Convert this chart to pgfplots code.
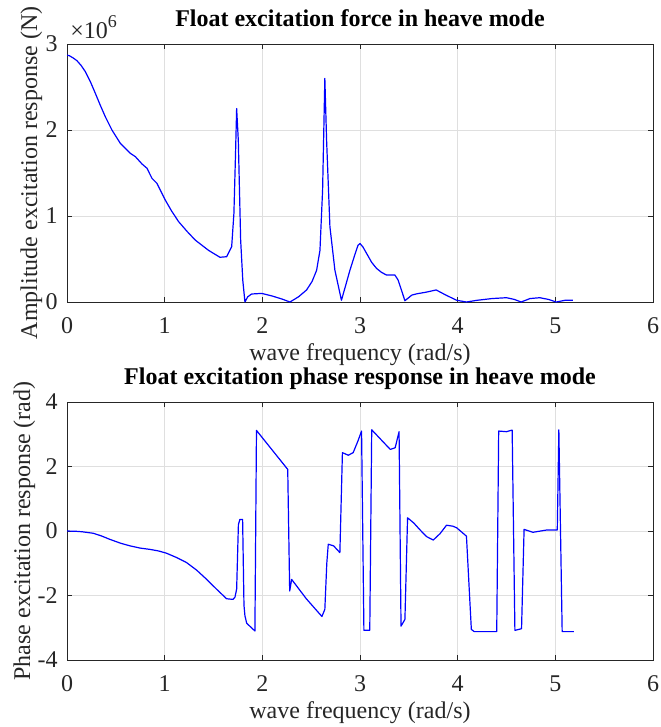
\documentclass[border=0pt,12pt]{standalone}
\usepackage{fontspec}
\setmainfont{Liberation Serif}
\usepackage{pgfplots}
\pgfplotsset{compat=1.18}
\definecolor{axgray}{RGB}{38,38,38}
\definecolor{gridgray}{RGB}{223,223,223}
\pgfplotsset{
  mlab/.style={
    scale only axis, width=293pt, height=129pt,
    xmin=0, xmax=6, xtick={0,1,2,3,4,5,6},
    grid=major, grid style={gridgray, line width=0.4pt},
    axis line style={axgray, line width=0.5pt},
    tick align=inside, xtick pos=both, ytick pos=both,
    major tick style={axgray, line width=0.5pt}, major tick length=2.5pt,
    /pgf/number format/assume math mode=true,
    tick label style={font=\fontsize{12}{14}\selectfont, text=axgray},
    xticklabel style={yshift=-3.5pt},
    yticklabel style={xshift=-0.5pt},
    xlabel={wave frequency (rad/s)},
    xlabel style={at={(axis description cs:0.5,0)}, anchor=base, yshift=-29pt, font=\fontsize{12}{14}\selectfont, text=axgray},
    title style={at={(axis description cs:0.5,1)}, anchor=base, yshift=3pt, font=\fontsize{12}{14}\selectfont\bfseries},
    no markers,
    every axis plot/.append style={blue, line width=0.6pt, line join=round, mark=none},
  }
}
\pgfplotstableread{
x y
0 2.87e6
0.024 2.864e6
0.06 2.84e6
0.102 2.806e6
0.145 2.75e6
0.188 2.678e6
0.24 2.56e6
0.29 2.427e6
0.34 2.29e6
0.392 2.155e6
0.46 2.0e6
0.546 1.845e6
0.648 1.729e6
0.70 1.69e6
0.768 1.605e6
0.819 1.555e6
0.87 1.438e6
0.921 1.38e6
1.006 1.186e6
1.07 1.06e6
1.143 0.934e6
1.23 0.82e6
1.313 0.72e6
1.45 0.6e6
1.566 0.52e6
1.635 0.527e6
1.686 0.643e6
1.709 1.03e6
1.725 1.7e6
1.737 2.25e6
1.754 1.88e6
1.778 0.72e6
1.80 0.25e6
1.822 0.0
1.85 0.06e6
1.89 0.093e6
1.993 0.1e6
2.10 0.07e6
2.20 0.035e6
2.283 0.0
2.37 0.06e6
2.453 0.14e6
2.51 0.24e6
2.556 0.37e6
2.59 0.6e6
2.617 1.3e6
2.64 2.6e6
2.658 1.88e6
2.692 0.876e6
2.743 0.37e6
2.81 0.02e6
2.85 0.18e6
2.897 0.37e6
2.95 0.56e6
2.98 0.66e6
3.0 0.68e6
3.03 0.64e6
3.067 0.566e6
3.12 0.46e6
3.17 0.39e6
3.22 0.345e6
3.27 0.314e6
3.357 0.314e6
3.39 0.256e6
3.46 0.015e6
3.53 0.08e6
3.58 0.095e6
3.68 0.115e6
3.78 0.14e6
3.88 0.08e6
3.99 0.02e6
4.09 0.0
4.2 0.02e6
4.35 0.04e6
4.5 0.05e6
4.58 0.03e6
4.65 0.0
4.74 0.04e6
4.84 0.05e6
4.93 0.03e6
5.01 0.0
5.1 0.02e6
5.18 0.02e6
}\amptable
\pgfplotstableread{
x y
0 0
0.1 -0.01
0.16 -0.025
0.22 -0.05
0.27 -0.07
0.35 -0.15
0.44 -0.26
0.55 -0.38
0.645 -0.46
0.75 -0.53
0.85 -0.57
0.94 -0.62
1.02 -0.69
1.12 -0.82
1.225 -0.98
1.33 -1.22
1.43 -1.5
1.53 -1.8
1.634 -2.1
1.70 -2.12
1.72 -2.05
1.737 -1.8
1.755 0.2
1.77 0.36
1.798 0.36
1.812 -2.3
1.822 -2.63
1.84 -2.86
1.924 -3.1
1.94 3.12
2.26 1.91
2.28 -1.86
2.30 -1.5
2.45 -2.1
2.61 -2.65
2.64 -2.43
2.66 -1.0
2.675 -0.41
2.73 -0.46
2.794 -0.67
2.82 2.43
2.88 2.35
2.93 2.43
2.98 2.8
3.016 3.1
3.04 -3.08
3.10 -3.08
3.12 3.14
3.21 2.85
3.31 2.53
3.36 2.58
3.40 3.08
3.42 -2.95
3.46 -2.74
3.487 0.41
3.55 0.25
3.61 0.05
3.68 -0.17
3.75 -0.28
3.82 -0.08
3.886 0.18
3.95 0.15
3.99 0.1
4.09 -0.16
4.14 -3.05
4.17 -3.12
4.40 -3.12
4.42 3.1
4.50 3.08
4.558 3.13
4.586 -3.08
4.654 -3.03
4.68 0.05
4.77 -0.04
4.91 0.03
5.02 0.03
5.036 3.14
5.07 -3.12
5.19 -3.12
}\phasetable
\begin{document}
\begin{tikzpicture}
\useasboundingbox (0,0) rectangle (330pt,-363.5pt);
\begin{axis}[mlab, name=top,
  at={(33.5pt,-151pt)}, anchor=south west,
  ymin=0, ymax=3000000,
  ytick={0,1000000,2000000,3000000}, yticklabels={0,1,2,3},
  scaled y ticks=false,
  title={Float excitation force in heave mode},
  ylabel={Amplitude excitation response (N)},
  ylabel style={at={(axis description cs:-0.0512,0.5)}, anchor=base, font=\fontsize{12}{14}\selectfont, text=axgray},
]
\addplot table[x=x,y=y] {\amptable};
\end{axis}
\node[anchor=base west, inner sep=0pt, text=axgray, font=\fontsize{12}{14}\selectfont] at ([xshift=1.5pt, yshift=3pt]top.north west) {×10\raisebox{0.45em}{\fontsize{9}{10}\selectfont 6}};
\begin{axis}[mlab,
  at={(33.5pt,-330pt)}, anchor=south west,
  ymin=-4, ymax=4, ytick={-4,-2,0,2,4},
  title={Float excitation phase response in heave mode},
  ylabel={Phase excitation response (rad)},
  ylabel style={at={(axis description cs:-0.0631,0.5)}, anchor=base, font=\fontsize{12}{14}\selectfont, text=axgray},
]
\addplot table[x=x,y=y] {\phasetable};
\end{axis}
\end{tikzpicture}
\end{document}
